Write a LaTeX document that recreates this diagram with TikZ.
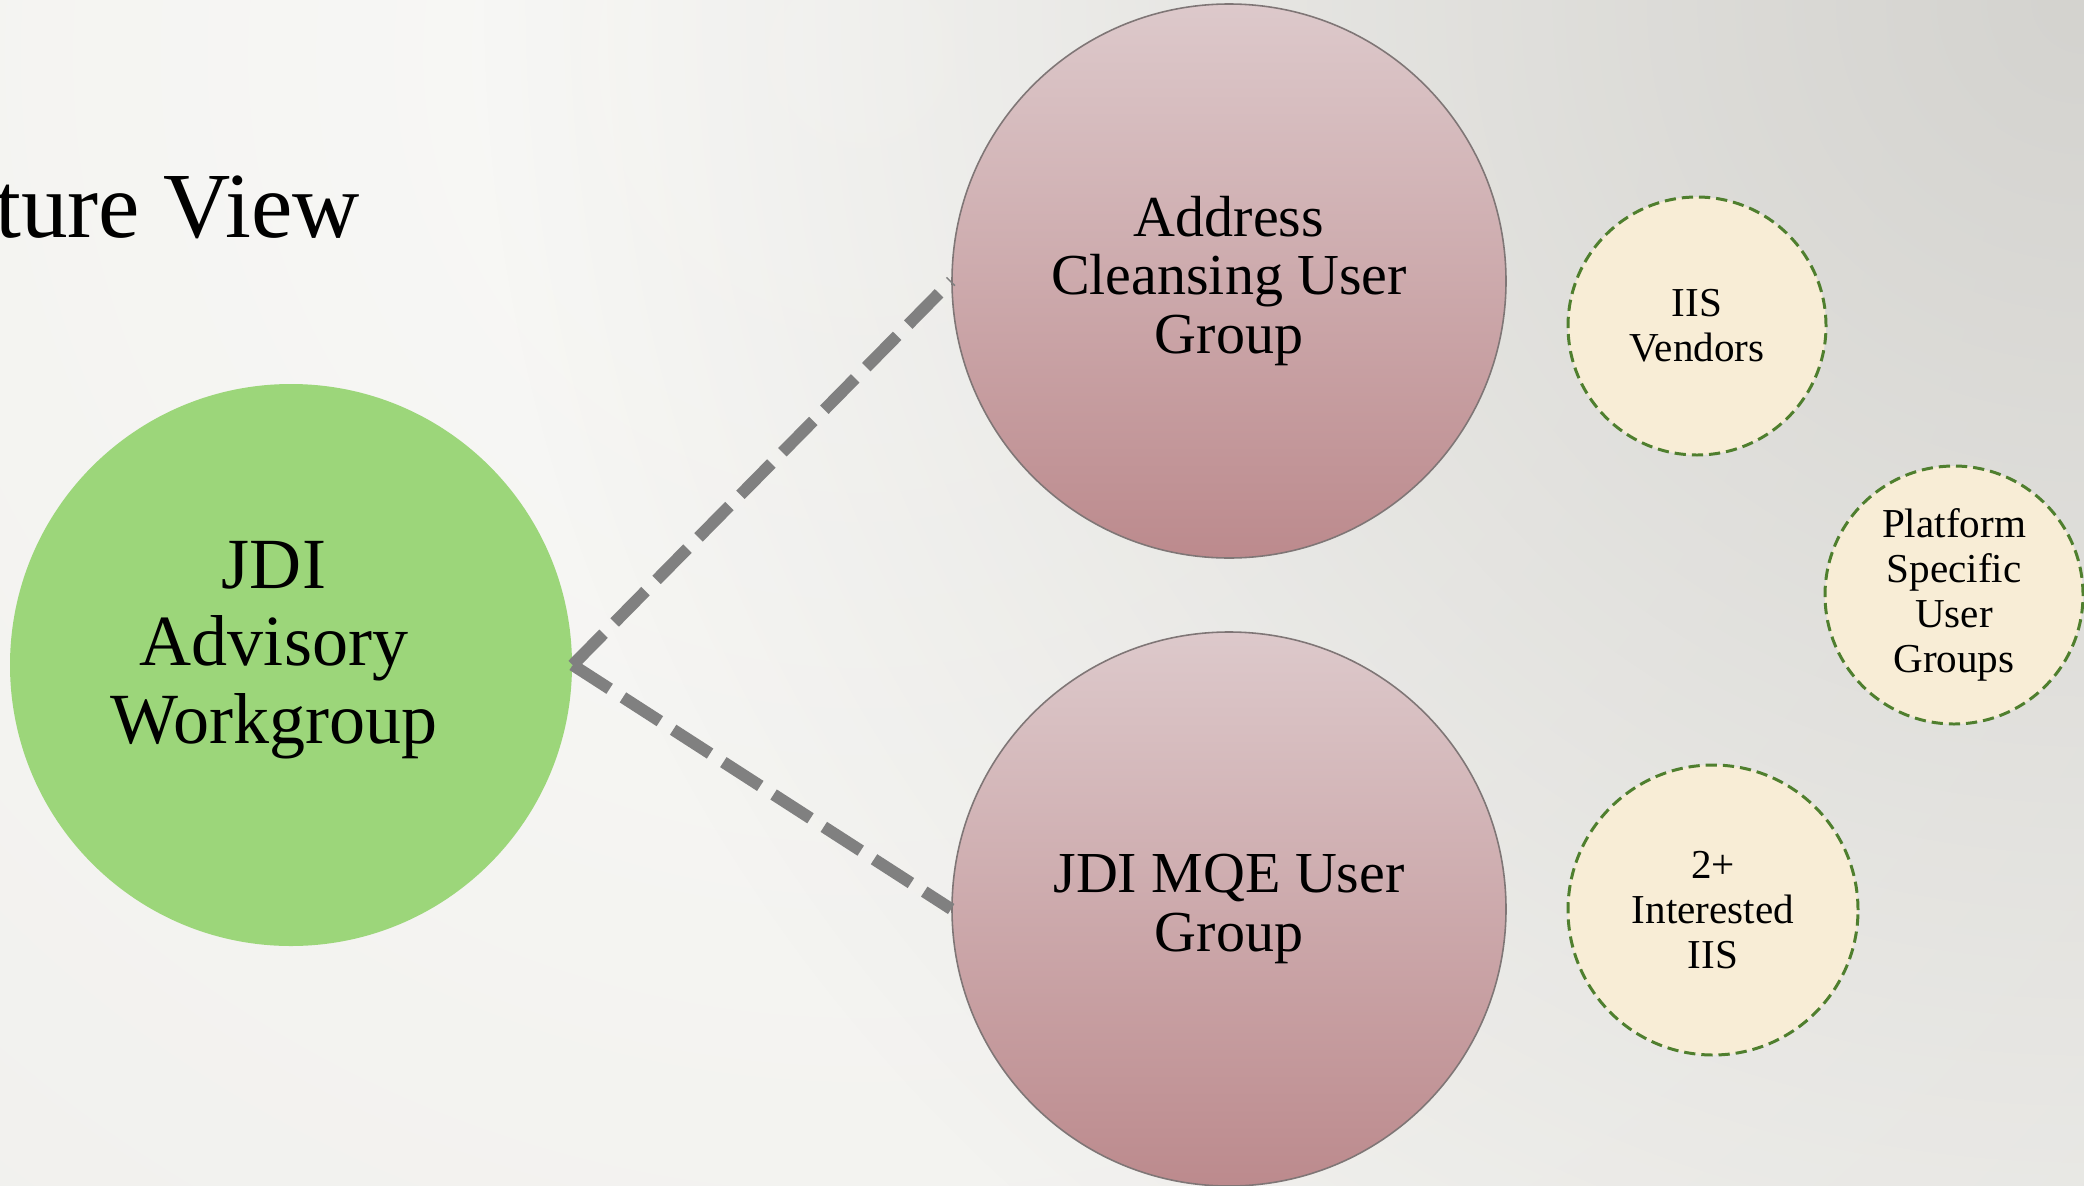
\documentclass[tikz,border=0pt]{standalone}
\usepackage{fontspec}
\setmainfont{Liberation Serif}
\usetikzlibrary{positioning, calc, fadings}
\definecolor{ink}{HTML}{000000}
\definecolor{bgin}{HTML}{F9F9F7}
\definecolor{bgout}{HTML}{EAE9E5}
\definecolor{bgdark}{HTML}{D4D3CF}
\definecolor{leafgreen}{HTML}{9CD67A}
\definecolor{rosetop}{HTML}{DDC9CB}
\definecolor{rosebot}{HTML}{BC8A8D}
\definecolor{roseedge}{HTML}{7F7676}
\definecolor{cream}{HTML}{F8EDD6}
\definecolor{dashgreen}{HTML}{4F7F2E}
\definecolor{linkgray}{HTML}{808080}
\tikzfading[name=cornerfade, inner color=transparent!0, outer color=transparent!100]
\tikzset{
  every node/.style={text=ink},
  core/.style={
    circle,
    fill=leafgreen,
    minimum size=5.62cm,
    inner sep=0pt
  },
  corelabel/.style={
    align=center,
    xshift=-0.17cm,
    yshift=0.15cm,
    font=\fontsize{20.5}{22}\selectfont
  },
  usergroup/.style={
    circle,
    draw=roseedge,
    line width=0.45pt,
    top color=rosetop,
    bottom color=rosebot,
    minimum size=5.54cm,
    inner sep=0pt,
    align=center,
    font=\fontsize{16.5}{16.6}\selectfont
  },
  satellite/.style={
    circle,
    draw=dashgreen,
    fill=cream,
    line width=0.85pt,
    dash pattern=on 3.2pt off 1.7pt,
    minimum size=2.58cm,
    inner sep=0pt,
    align=center,
    font=\fontsize{11.7}{12.8}\selectfont
  },
  link/.style={draw=linkgray, line width=3.4pt, line cap=butt, dash pattern=on 12.5pt off 4.5pt},
  heading/.style={font=\fontsize{26.5}{26.5}\selectfont}
}

\begin{document}
\begin{tikzpicture}
  \useasboundingbox (0,0) rectangle (20.84,11.85);
  % Background
  \begin{scope}
    \clip (0,0) rectangle (20.84,11.85);
    \shade[inner color=bgin, outer color=bgout] (8.6,11.3) circle (28);
    \fill[bgdark, path fading=cornerfade] (20.84,11.85) circle (16);
  \end{scope}

  % Title
  \node[heading, anchor=base east] (title) at (3.72,9.48) {ture View};

  % Nodes
  \node[core, label={[corelabel]center:{JDI\\Advisory\\Workgroup}}] (awg) at (2.91,5.20) {};
  \node[usergroup] (acug) at (12.29,9.04) {Address\\Cleansing User\\Group};
  \node[usergroup] (mqe) at (12.29,2.76) {JDI MQE User\\Group};
  \node[satellite] (vend) at (16.97,8.59) {IIS\\Vendors};
  \node[satellite] (plat) at (19.54,5.90) {Platform\\Specific\\User\\Groups};
  \node[satellite, minimum size=2.90cm] (iis) at (17.13,2.75) {2+\\Interested\\IIS};

  % Links
  \draw[link] (awg.east) -- (acug.west);
  \draw[link] (awg.east) -- (mqe.west);
\end{tikzpicture}
\end{document}
